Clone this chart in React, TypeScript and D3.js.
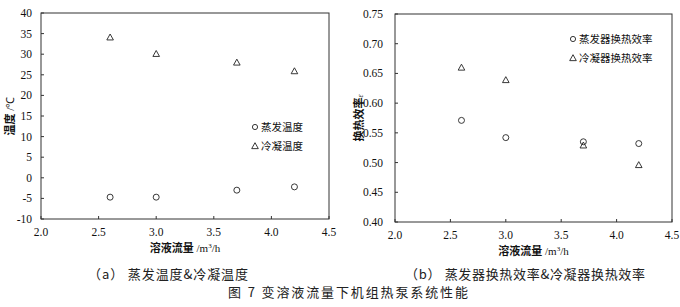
import React from "react";
import * as d3 from "d3";

// Solution flow rate (m³/h)
const flowRates = [2.6, 3.0, 3.7, 4.2];
// Panel (a): temperatures (°C)
const evapTemp = [-4.7, -4.7, -3.0, -2.2];
const condTemp = [34.1, 30.1, 28.0, 25.9];
// Panel (b): heat-exchange efficiency ε
const evapEff = [0.571, 0.542, 0.535, 0.532];
const condEff = [0.660, 0.639, 0.529, 0.496];

const xTicks = [2.0, 2.5, 3.0, 3.5, 4.0, 4.5];
const tempTicks = [-10, -5, 0, 5, 10, 15, 20, 25, 30, 35, 40];
const effTicks = [0.4, 0.45, 0.5, 0.55, 0.6, 0.65, 0.7, 0.75];

const serif = "'Liberation Serif', 'Times New Roman', serif";
const cjk = "'Noto Sans CJK SC', sans-serif";

type PanelProps = {
  left: number;
  right: number;
  top: number;
  bottom: number;
  yDomain: [number, number];
  yTicks: number[];
  yFmt: (v: number) => string;
  circles: number[];
  triangles: number[];
  yLabel: React.ReactNode;
  yLabelX: number;
  legend: [string, string];
  legendX: number;
  legendY: number;
  tickLabelGap: number;
  xLabelY: number;
};

function Triangle({ cx, cy }: { cx: number; cy: number }) {
  const s = 3.3;
  const p = `M${cx},${cy - s}L${cx + s},${cy + s * 0.8}L${cx - s},${cy + s * 0.8}Z`;
  return <path d={p} fill="none" stroke="#222" strokeWidth={0.9} />;
}

function Panel(p: PanelProps) {
  const x = d3.scaleLinear().domain([2.0, 4.5]).range([p.left, p.right]);
  const y = d3.scaleLinear().domain(p.yDomain).range([p.bottom, p.top]);
  return (
    <g>
      <rect
        x={p.left}
        y={p.top}
        width={p.right - p.left}
        height={p.bottom - p.top}
        fill="none"
        stroke="#333"
        strokeWidth={1}
      />
      {p.yTicks.map((t) => (
        <g key={"y" + t}>
          <line x1={p.left} x2={p.left + 3} y1={y(t)} y2={y(t)} stroke="#333" />
          <text
            x={p.left - p.tickLabelGap}
            y={y(t)}
            dy="0.35em"
            textAnchor="end"
            fontFamily={serif}
            fontSize={11.5}
            fill="#111"
          >
            {p.yFmt(t)}
          </text>
        </g>
      ))}
      {xTicks.map((t) => (
        <g key={"x" + t}>
          <line x1={x(t)} x2={x(t)} y1={p.bottom} y2={p.bottom - 3} stroke="#333" />
          <text
            x={x(t)}
            y={p.bottom + 17}
            textAnchor="middle"
            fontFamily={serif}
            fontSize={11.5}
            fill="#111"
          >
            {t.toFixed(1)}
          </text>
        </g>
      ))}
      {flowRates.map((f, i) => (
        <circle key={"c" + i} cx={x(f)} cy={y(p.circles[i])} r={3} fill="none" stroke="#222" strokeWidth={0.9} />
      ))}
      {flowRates.map((f, i) => (
        <Triangle key={"t" + i} cx={x(f)} cy={y(p.triangles[i])} />
      ))}
      {/* x axis title */}
      <text
        x={(p.left + p.right) / 2}
        y={p.xLabelY}
        textAnchor="middle"
        fontSize={11}
        fill="#111"
      >
        <tspan fontFamily={cjk} fontWeight={700}>溶液流量</tspan>
        <tspan fontFamily={serif}> /m</tspan>
        <tspan fontFamily={serif} fontSize={7} dy={-4}>3</tspan>
        <tspan fontFamily={serif} dy={4}>/h</tspan>
      </text>
      {/* y axis title */}
      <text
        transform={`translate(${p.yLabelX},${(p.top + p.bottom) / 2}) rotate(-90)`}
        textAnchor="middle"
        fontSize={11}
        fill="#111"
      >
        {p.yLabel}
      </text>
      {/* legend */}
      <g fontFamily={cjk} fontSize={10.5} fill="#111">
        <circle cx={p.legendX} cy={p.legendY} r={2.6} fill="none" stroke="#222" strokeWidth={0.9} />
        <text x={p.legendX + 6} y={p.legendY} dy="0.36em">{p.legend[0]}</text>
        <Triangle cx={p.legendX} cy={p.legendY + 19} />
        <text x={p.legendX + 6} y={p.legendY + 19} dy="0.36em">{p.legend[1]}</text>
      </g>
    </g>
  );
}

export default function App() {
  return (
    <svg
      width={680}
      height={307}
      style={{ position: "absolute", left: 0, top: 0, background: "#fff" }}
    >
      <rect width={680} height={307} fill="#fff" />
      <Panel
        left={41}
        right={329}
        top={13}
        bottom={219}
        yDomain={[-10, 40]}
        yTicks={tempTicks}
        yFmt={(v) => String(v)}
        circles={evapTemp}
        triangles={condTemp}
        yLabel={
          <>
            <tspan fontFamily={cjk} fontWeight={700}>温度</tspan>
            <tspan fontFamily={serif}> /℃</tspan>
          </>
        }
        yLabelX={14}
        legend={["蒸发温度", "冷凝温度"]}
        legendX={255}
        legendY={127}
        tickLabelGap={9}
        xLabelY={252}
      />
      <Panel
        left={395}
        right={672}
        top={14}
        bottom={222}
        yDomain={[0.4, 0.75]}
        yTicks={effTicks}
        yFmt={(v) => v.toFixed(2)}
        circles={evapEff}
        triangles={condEff}
        yLabel={
          <>
            <tspan fontFamily={cjk} fontWeight={700}>换热效率</tspan>
            <tspan fontFamily={serif} fontStyle="italic" fontSize={8}>ε</tspan>
          </>
        }
        yLabelX={363}
        legend={["蒸发器换热效率", "冷凝器换热效率"]}
        legendX={573}
        legendY={39}
        tickLabelGap={12}
        xLabelY={255}
      />
      <text x={88} y={279} fontFamily={cjk} fontSize={13} fill="#222" textLength={160} lengthAdjust="spacing">
        （a） 蒸发温度&amp;冷凝温度
      </text>
      <text x={405} y={279} fontFamily={cjk} fontSize={13} fill="#222" textLength={240} lengthAdjust="spacing">
        （b） 蒸发器换热效率&amp;冷凝器换热效率
      </text>
      <text x={228} y={297} fontFamily={cjk} fontSize={13} fill="#222" textLength={240} lengthAdjust="spacing">
        图 7 变溶液流量下机组热泵系统性能
      </text>
    </svg>
  );
}
